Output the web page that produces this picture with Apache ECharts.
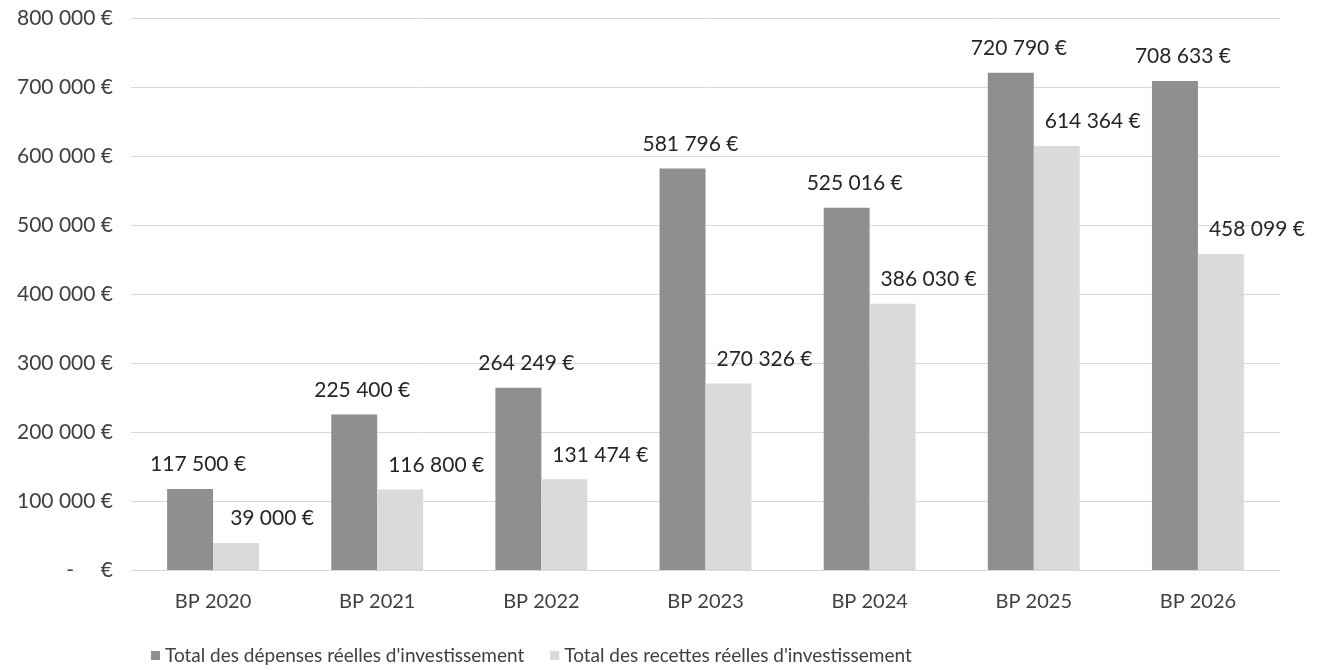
<!DOCTYPE html>
<html><head><meta charset="utf-8">
<script src="https://cdn.jsdelivr.net/npm/echarts@6/dist/echarts.min.js"></script>
<style>html,body{margin:0;padding:0;background:#fff}#c{width:1322px;height:670px}</style>
</head><body><div id="c"></div>
<script>
const categories = ['BP 2020','BP 2021','BP 2022','BP 2023','BP 2024','BP 2025','BP 2026'];
const depenses = [117500, 225400, 264249, 581796, 525016, 720790, 708633];
const recettes = [39000, 116800, 131474, 270326, 386030, 614364, 458099];
const seriesNames = ["Total des dépenses réelles d'investissement", "Total des recettes réelles d'investissement"];

function fmt(v){
  if (v === 0) return '-     €';
  return String(Math.round(v)).replace(/\B(?=(\d{3})+(?!\d))/g, ' ') + ' €';
}
const FONT = 'Lato';
const chart = echarts.init(document.getElementById('c'));
chart.setOption({
  animation: false,
  textStyle: {fontFamily: FONT},
  grid: {left: 131, right: 42, top: 18, bottom: 100, containLabel: false},
  legend: {
    bottom: 0, left: 146, itemWidth: 9, itemHeight: 9, itemGap: 26, icon: 'rect',
    textStyle: {fontFamily: FONT, fontSize: 19, color: '#404040'},
    data: seriesNames
  },
  xAxis: {
    type: 'category', data: categories,
    axisLine: {lineStyle: {color: '#d9d9d9'}},
    axisTick: {show: false},
    axisLabel: {fontFamily: FONT, fontSize: 20, color: '#404040', margin: 22}
  },
  yAxis: {
    type: 'value', min: 0, max: 800000, interval: 100000,
    axisLine: {show: false}, axisTick: {show: false},
    splitLine: {lineStyle: {color: '#d9d9d9'}},
    axisLabel: {fontFamily: FONT, fontSize: 21, color: '#404040', margin: 18, formatter: fmt}
  },
  series: [
    {
      name: seriesNames[0], type: 'bar', data: depenses,
      barGap: '0%', barCategoryGap: '44%',
      itemStyle: {color: '#8f8f8f'},
      label: {show: true, position: 'top', distance: 14, offset: [8, 0],
        fontFamily: FONT, fontSize: 21, color: '#262626',
        formatter: p => fmt(p.value)}
    },
    {
      name: seriesNames[1], type: 'bar', data: recettes,
      itemStyle: {color: '#dadada'},
      label: {show: true, position: 'top', distance: 14, offset: [36, 0],
        fontFamily: FONT, fontSize: 21, color: '#262626',
        formatter: p => fmt(p.value)}
    }
  ]
});
</script></body></html>
